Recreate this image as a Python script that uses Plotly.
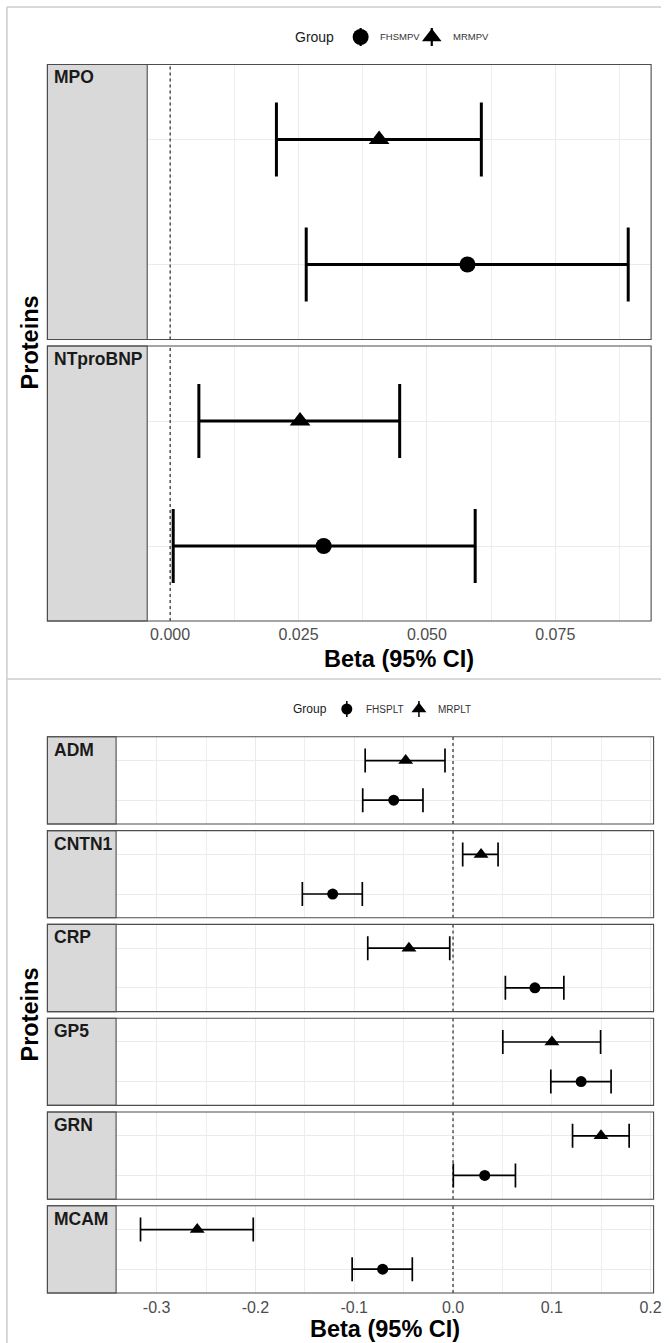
import plotly.graph_objects as go

W, H = 669, 1343

# ---------------- Data ----------------
# Top block: MPV
top_proteins = ["MPO", "NTproBNP"]
top_groups = ["FHSMPV", "MRMPV"]          # bottom row, top row
top_beta_fhs = [0.0579, 0.0299]
top_lo_fhs = [0.0265, 0.0006]
top_hi_fhs = [0.0892, 0.0594]
top_beta_mr = [0.0407, 0.0253]
top_lo_mr = [0.0207, 0.0056]
top_hi_mr = [0.0606, 0.0447]
top_tickvals = [0.0, 0.025, 0.05, 0.075]
top_ticktext = ["0.000", "0.025", "0.050", "0.075"]

# Bottom block: PLT
bot_proteins = ["ADM", "CNTN1", "CRP", "GP5", "GRN", "MCAM"]
bot_groups = ["FHSPLT", "MRPLT"]
bot_beta_fhs = [-0.0600, -0.1218, 0.0829, 0.1297, 0.0321, -0.0712]
bot_lo_fhs = [-0.0914, -0.1525, 0.0530, 0.0990, 0.0003, -0.1021]
bot_hi_fhs = [-0.0304, -0.0918, 0.1122, 0.1600, 0.0632, -0.0412]
bot_beta_mr = [-0.0479, 0.0284, -0.0446, 0.1001, 0.1498, -0.2589]
bot_lo_mr = [-0.0889, 0.0098, -0.0863, 0.0504, 0.1210, -0.3163]
bot_hi_mr = [-0.0081, 0.0456, -0.0033, 0.1494, 0.1783, -0.2022]
bot_tickvals = [-0.3, -0.2, -0.1, 0.0, 0.1, 0.2]
bot_ticktext = ["-0.3", "-0.2", "-0.1", "0.0", "0.1", "0.2"]

x_title = "Beta (95% CI)"
y_title = "Proteins"
legend_title = "Group"

FONT = "Liberation Sans, Arial, sans-serif"


def fx(px):
    return px / W


def fy(py):
    return 1 - py / H


fig = go.Figure()
layout = dict(
    width=W, height=H, margin=dict(l=0, r=0, t=0, b=0),
    paper_bgcolor="white", plot_bgcolor="rgba(0,0,0,0)", showlegend=False,
    font=dict(family=FONT),
)
shapes = []
annotations = []
axis_counter = [0]


def add_block(proteins, groups, bf, lf, hf, bm, lm, hm, tickvals, ticktext, cfg):
    lo_all = min(min(lf), min(lm), 0.0)
    hi_all = max(max(hf), max(hm), 0.0)
    pad = 0.05 * (hi_all - lo_all)
    xr = [lo_all - pad, hi_all + pad]
    npan = len(proteins)
    for i, prot in enumerate(proteins):
        axis_counter[0] += 1
        n = axis_counter[0]
        xa = "x" if n == 1 else f"x{n}"
        ya = "y" if n == 1 else f"y{n}"
        xkey = "xaxis" if n == 1 else f"xaxis{n}"
        ykey = "yaxis" if n == 1 else f"yaxis{n}"
        top = cfg["top0"] + i * cfg["pitch"]
        bot = top + cfg["ph"]
        last = (i == npan - 1)

        layout[xkey] = dict(
            domain=[fx(cfg["pl"]), fx(cfg["pr"])], range=xr, anchor=ya,
            tickmode="array", tickvals=tickvals, ticktext=ticktext,
            showticklabels=last, ticks="", showline=False, zeroline=False,
            showgrid=True, gridcolor="#ebebeb", gridwidth=1.1,
            minor=dict(tickmode="linear", tick0=0, dtick=cfg["minor"],
                       showgrid=True, gridcolor="#eeeeee", gridwidth=0.7),
            tickfont=dict(family=FONT, size=cfg["tick_size"], color="#4d4d4d"),
            ticklabelstandoff=cfg["standoff"], ticklabeloverflow="allow",
            fixedrange=True,
        )
        layout[ykey] = dict(
            domain=[fy(bot), fy(top)], range=[-0.6, 1.6], anchor=xa,
            type="category", categoryorder="array", categoryarray=groups,
            showticklabels=False, ticks="", showline=False, zeroline=False,
            showgrid=True, gridcolor="#ebebeb", gridwidth=1.1, fixedrange=True,
        )

        # reference line at zero
        shapes.append(dict(type="line", xref=xa, x0=0, x1=0,
                           yref=f"{ya} domain", y0=0, y1=1,
                           line=dict(color="black", width=1, dash="3px,3px"),
                           layer="above"))

        for beta, lo, hi, grp, sym, msize in (
            (bf[i], lf[i], hf[i], groups[0], "circle", cfg["circ"]),
            (bm[i], lm[i], hm[i], groups[1], "triangle-up", cfg["tri"]),
        ):
            fig.add_trace(go.Scatter(
                x=[beta], y=[grp], xaxis=xa, yaxis=ya, mode="markers",
                name=grp, showlegend=False,
                marker=dict(symbol=sym, size=msize, color="black",
                            line=dict(width=0)),
                error_x=dict(type="data", symmetric=False,
                             array=[hi - beta], arrayminus=[beta - lo],
                             color="black", thickness=cfg["lw"],
                             width=cfg["cap"]),
                hoverinfo="x+y",
            ))

        # strip (left, grey) and panel border
        shapes.append(dict(type="rect", xref="paper", yref="paper",
                           x0=fx(cfg["sl"]), x1=fx(cfg["pl"]),
                           y0=fy(bot), y1=fy(top),
                           fillcolor="#d9d9d9",
                           line=dict(color="#4d4d4d", width=1.1),
                           layer="above"))
        shapes.append(dict(type="rect", xref="paper", yref="paper",
                           x0=fx(cfg["sl"]), x1=fx(cfg["pr"]),
                           y0=fy(bot), y1=fy(top),
                           fillcolor="rgba(0,0,0,0)",
                           line=dict(color="#4d4d4d", width=1.1),
                           layer="above"))
        annotations.append(dict(
            text=f"<b>{prot}</b>", xref="paper", yref="paper",
            x=fx(cfg["sl"] + 5), y=fy(top + cfg["strip_dy"]),
            xanchor="left", yanchor="middle", showarrow=False,
            font=dict(family=FONT, size=cfg["strip_size"], color="#1a1a1a"),
        ))

    first_top = cfg["top0"]
    last_bot = cfg["top0"] + (npan - 1) * cfg["pitch"] + cfg["ph"]
    annotations.append(dict(
        text=f"<b>{x_title}</b>", xref="paper", yref="paper",
        x=fx((cfg["pl"] + cfg["pr"]) / 2), y=fy(cfg["xtitle_y"]),
        xanchor="center", yanchor="middle", showarrow=False,
        font=dict(family=FONT, size=cfg["title_size"], color="black"),
    ))
    annotations.append(dict(
        text=f"<b>{y_title}</b>", xref="paper", yref="paper",
        x=fx(cfg["ytitle_x"]), y=fy((first_top + last_bot) / 2),
        xanchor="center", yanchor="middle", textangle=-90, showarrow=False,
        font=dict(family=FONT, size=cfg["title_size"], color="black"),
    ))


top_cfg = dict(top0=64.5, pitch=281.5, ph=275.0, sl=48, pl=149, pr=659,
               minor=0.0125, tick_size=16, standoff=2, circ=16, tri=18,
               lw=3.0, cap=37, strip_dy=13, strip_size=17.5, title_size=23.5,
               xtitle_y=659, ytitle_x=30)
bot_cfg = dict(top0=736.8, pitch=93.8, ph=87.2, sl=48, pl=117.5, pr=661.5,
               minor=0.05, tick_size=16, standoff=3, circ=11, tri=13,
               lw=1.7, cap=12, strip_dy=13, strip_size=17.5, title_size=23.5,
               xtitle_y=1329, ytitle_x=30)

add_block(top_proteins, top_groups, top_beta_fhs, top_lo_fhs, top_hi_fhs,
          top_beta_mr, top_lo_mr, top_hi_mr, top_tickvals, top_ticktext, top_cfg)
add_block(bot_proteins, bot_groups, bot_beta_fhs, bot_lo_fhs, bot_hi_fhs,
          bot_beta_mr, bot_lo_mr, bot_hi_mr, bot_tickvals, bot_ticktext, bot_cfg)

# ---------------- legends (drawn manually, ggplot style) ----------------
n_leg = axis_counter[0] + 1
layout[f"xaxis{n_leg}"] = dict(domain=[0, 1], range=[0, W], visible=False,
                               anchor=f"y{n_leg}", fixedrange=True)
layout[f"yaxis{n_leg}"] = dict(domain=[0, 1], range=[H, 0], visible=False,
                               anchor=f"x{n_leg}", fixedrange=True)

legend_specs = [
    (37, 340, [(365, 383, top_groups[0], "circle", 16),
               (437, 456, top_groups[1], "triangle-up", 17)], 14, 9, 2.2, 9.5),
    (709, 333, [(351, 368, bot_groups[0], "circle", 11),
                (424, 441, bot_groups[1], "triangle-up", 13)], 12, 8, 1.5, 10),
]
for ly, tr, items, tsize, stem, lw, lsize in legend_specs:
    annotations.append(dict(text=legend_title, xref="paper", yref="paper",
                            x=fx(tr), y=fy(ly), xanchor="right", yanchor="middle",
                            showarrow=False,
                            font=dict(family=FONT, size=tsize, color="#1a1a1a")))
    for kx, lx, lab, sym, sz in items:
        fig.add_trace(go.Scatter(
            x=[kx], y=[ly], xaxis=f"x{n_leg}", yaxis=f"y{n_leg}",
            mode="markers", showlegend=False, hoverinfo="skip",
            marker=dict(symbol=sym, size=sz, color="black", line=dict(width=0)),
            error_y=dict(type="constant", value=stem, color="black",
                         thickness=lw, width=0),
        ))
        annotations.append(dict(text=lab, xref="paper", yref="paper",
                                x=fx(lx), y=fy(ly), xanchor="left",
                                yanchor="middle", showarrow=False,
                                font=dict(family=FONT, size=lsize, color="#333333")))

# ---------------- outer frame lines of the composed picture ----------------
frame_col = "#cccccc"
shapes.append(dict(type="line", xref="paper", yref="paper",
                   x0=fx(7), x1=fx(7), y0=fy(7), y1=0,
                   line=dict(color=frame_col, width=1.5), layer="above"))
shapes.append(dict(type="line", xref="paper", yref="paper",
                   x0=fx(7), x1=1, y0=fy(7), y1=fy(7),
                   line=dict(color=frame_col, width=1.5), layer="above"))
shapes.append(dict(type="line", xref="paper", yref="paper",
                   x0=fx(7), x1=1, y0=fy(679), y1=fy(679),
                   line=dict(color=frame_col, width=1.5), layer="above"))

layout["shapes"] = shapes
layout["annotations"] = annotations
fig.update_layout(**layout)

fig.write_html("out.html",
               config={"displayModeBar": False},
               post_script="document.body.style.margin='0';"
                           "document.body.style.overflow='hidden';")
